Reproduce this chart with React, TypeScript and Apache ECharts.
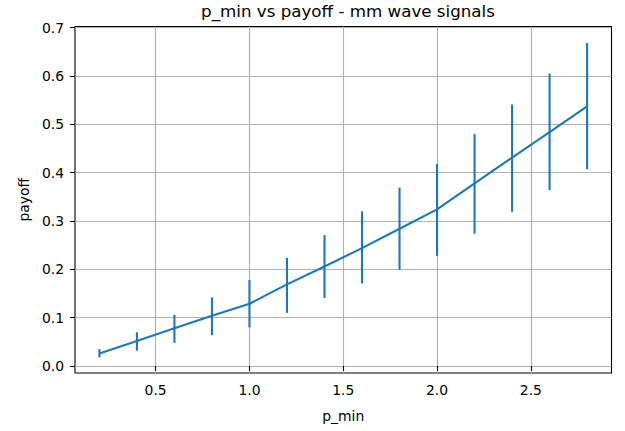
import React, { useEffect, useRef } from "react";
import * as echarts from "echarts";

const pMin = [0.2, 0.4, 0.6, 0.8, 1.0, 1.2, 1.4, 1.6, 1.8, 2.0, 2.2, 2.4, 2.6, 2.8];
const payoff = [0.026, 0.052, 0.078, 0.104, 0.129, 0.169, 0.206, 0.244, 0.284, 0.324, 0.378, 0.431, 0.484, 0.537];
const errLow = [0.018, 0.032, 0.048, 0.064, 0.080, 0.110, 0.141, 0.171, 0.199, 0.228, 0.274, 0.319, 0.364, 0.407];
const errHigh = [0.035, 0.070, 0.106, 0.142, 0.178, 0.224, 0.271, 0.320, 0.369, 0.418, 0.480, 0.541, 0.605, 0.668];
const xTicks = [0.5, 1.0, 1.5, 2.0, 2.5];
const yTicks = [0.0, 0.1, 0.2, 0.3, 0.4, 0.5, 0.6, 0.7];

const FONT = "DejaVu Sans";
const BLUE = "#1f77b4";

export default function App() {
  const ref = useRef<HTMLDivElement>(null);
  useEffect(() => {
    const chart = echarts.init(ref.current!, null, { renderer: "svg" });
    chart.setOption({
      animation: false,
      backgroundColor: "#ffffff",
      title: {
        text: "p_min vs payoff - mm wave signals",
        left: 343,
        textAlign: "center",
        top: -3,
        textStyle: { fontFamily: FONT, fontSize: 16.7, fontWeight: "normal", color: "#000" },
      },
      grid: {
        left: 75,
        right: 13.5,
        top: 26.5,
        bottom: 58,
        show: true,
        borderColor: "#000",
        borderWidth: 1.1,
        backgroundColor: "transparent",
      },
      xAxis: {
        type: "value",
        min: 0.07,
        max: 2.93,
        name: "p_min",
        nameLocation: "middle",
        nameGap: 36,
        nameTextStyle: { fontFamily: FONT, fontSize: 13.9, color: "#000" },
        axisLine: { show: false },
        axisTick: { show: true, length: 4.9, lineStyle: { color: "#000", width: 1.1 }, customValues: xTicks },
        axisLabel: {
          customValues: xTicks,
          fontFamily: FONT,
          fontSize: 13.9,
          color: "#000",
          margin: 10,
          formatter: (v: number) => v.toFixed(1),
        },
        splitLine: { show: true, lineStyle: { color: "#b0b0b0", width: 1.1 } },
      },
      yAxis: {
        type: "value",
        min: -0.0143,
        max: 0.7022,
        name: "payoff",
        nameLocation: "middle",
        nameGap: 44,
        nameTextStyle: { fontFamily: FONT, fontSize: 13.9, color: "#000" },
        axisLine: { show: false },
        axisTick: { show: true, length: 4.9, lineStyle: { color: "#000", width: 1.1 }, customValues: yTicks },
        axisLabel: {
          customValues: yTicks,
          fontFamily: FONT,
          fontSize: 13.9,
          color: "#000",
          margin: 11,
          formatter: (v: number) => v.toFixed(1),
        },
        splitLine: { show: true, lineStyle: { color: "#b0b0b0", width: 1.1 } },
      },
      series: [
        {
          type: "line",
          data: pMin.map((x, i) => [x, payoff[i]]),
          showSymbol: false,
          symbol: "none",
          lineStyle: { color: BLUE, width: 2.1 },
          itemStyle: { color: BLUE },
          z: 3,
        },
        {
          type: "custom",
          data: pMin.map((x, i) => [x, errLow[i], errHigh[i]]),
          renderItem: (_p: any, api: any) => {
            const x = api.value(0);
            const lo = api.coord([x, api.value(1)]);
            const hi = api.coord([x, api.value(2)]);
            return {
              type: "line",
              shape: { x1: lo[0], y1: lo[1], x2: hi[0], y2: hi[1] },
              style: { stroke: BLUE, lineWidth: 2.1 },
            };
          },
          z: 4,
        },
      ],
    });
    return () => chart.dispose();
  }, []);
  return <div ref={ref} style={{ position: "fixed", left: 0, top: 0, width: 625, height: 431 }} />;
}
